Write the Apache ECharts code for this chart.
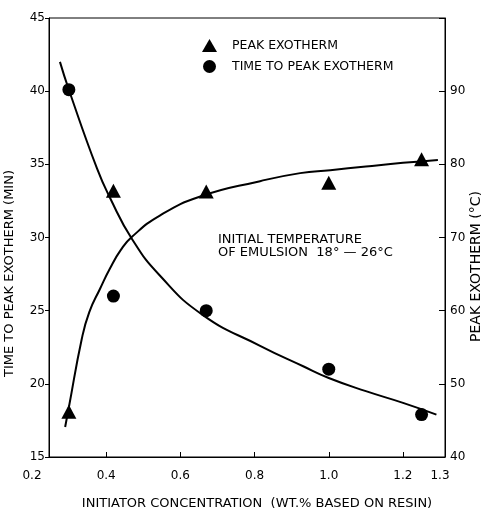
<!DOCTYPE html>
<html><head><meta charset="utf-8">
<script src="https://cdn.jsdelivr.net/npm/echarts@6/dist/echarts.min.js"></script>
<style>html,body{margin:0;padding:0;background:#fff}#c{width:481px;height:509px}</style>
</head><body><div id="c"></div>
<script>
const concentration = [0.30, 0.42, 0.67, 1.00, 1.25];
const timeToPeak = [40.1, 26.0, 25.0, 21.0, 17.9];
const peakExotherm = [46.2, 76.4, 76.3, 77.5, 80.7];
const timeCurveX = [0.276, 0.30, 0.376, 0.411, 0.47, 0.545, 0.661, 0.815, 0.931, 1.0, 1.1, 1.2, 1.29];
const timeCurveY = [42.0, 40.1, 34.7, 32.7, 29.9, 27.4, 24.7, 22.6, 21.2, 20.4, 19.5, 18.7, 17.9];
const exoCurveX = [0.29, 0.30, 0.335, 0.355, 0.384, 0.411, 0.44, 0.47, 0.545, 0.654, 0.815, 0.923, 1.004, 1.1, 1.2, 1.294];
const exoCurveY = [44.1, 46.8, 56.2, 59.8, 63.0, 65.8, 68.3, 70.1, 73.0, 75.6, 77.7, 78.8, 79.2, 79.7, 80.2, 80.6];
const xTickLabels = [0.2, 0.4, 0.6, 0.8, 1.0, 1.2, 1.3];
const xTickMarks = [0.4, 0.6, 0.8, 1.0, 1.2];
const rightHiddenLabel = 100;
const seriesNames = ['PEAK EXOTHERM', 'TIME TO PEAK EXOTHERM'];
const xTitle = 'INITIATOR CONCENTRATION  (WT.% BASED ON RESIN)';
const leftTitle = 'TIME TO PEAK EXOTHERM (MIN)';
const rightTitle = 'PEAK EXOTHERM (°C)';
const annotationLines = ['INITIAL TEMPERATURE', 'OF EMULSION  18° — 26°C'];

const FONT = 'DejaVu Sans';
const chart = echarts.init(document.getElementById('c'), null, {renderer: 'canvas'});
const pair = (xs, ys) => xs.map((x, i) => [x, ys[i]]);
const black = '#000';
chart.setOption({
  animation: false,
  backgroundColor: '#fff',
  grid: [
    {left: 49, right: 36, top: 18, bottom: 52, outerBoundsMode: 'none', containLabel: false,
     show: true, borderColor: black, borderWidth: 1, backgroundColor: 'transparent'},
    {left: 32, right: 41, top: 18, bottom: 52, outerBoundsMode: 'none', containLabel: false}
  ],
  legend: {
    orient: 'vertical', left: 197, top: 34, itemWidth: 15, itemHeight: 13, itemGap: 8,
    data: [{name: seriesNames[0], icon: 'triangle'}, {name: seriesNames[1], icon: 'circle'}],
    itemStyle: {color: black, opacity: 1},
    textStyle: {fontFamily: FONT, fontSize: 12.5, color: black, padding: [0, 0, 0, 10]}
  },
  xAxis: [
    {gridIndex: 0, type: 'value', min: 0.2465, max: 1.3131,
     axisLine: {show: true, lineStyle: {color: black, width: 1}},
     axisTick: {inside: true, length: 5, customValues: xTickMarks, lineStyle: {color: black}},
     axisLabel: {show: false}, splitLine: {show: false},
     name: xTitle, nameLocation: 'middle', nameGap: 40, nameMoveOverlap: false,
     nameTextStyle: {fontFamily: FONT, fontSize: 13, color: black, padding: [0, 0, 0, 20]}},
    {gridIndex: 1, type: 'value', min: 0.2, max: 1.3,
     axisLine: {show: false}, axisTick: {show: false}, splitLine: {show: false},
     axisLabel: {customValues: xTickLabels, formatter: v => v.toFixed(1), margin: 13,
       fontFamily: FONT, fontSize: 12, color: black}}
  ],
  yAxis: [
    {gridIndex: 0, type: 'value', position: 'left', min: 15, max: 45, interval: 5,
     axisLine: {show: true, lineStyle: {color: black}},
     axisTick: {show: true, inside: false, length: 4, lineStyle: {color: black}},
     axisLabel: {margin: 4, fontFamily: FONT, fontSize: 12, color: black},
     splitLine: {show: false},
     name: leftTitle, nameLocation: 'middle', nameRotate: 90, nameGap: 33, nameMoveOverlap: false,
     nameTextStyle: {fontFamily: FONT, fontSize: 13, color: black, padding: [0, 72, 0, 0]}},
    {gridIndex: 0, type: 'value', position: 'right', min: 40, max: 100, interval: 10,
     axisLine: {show: true, lineStyle: {color: black}},
     axisTick: {show: true, inside: true, length: 6, lineStyle: {color: black}},
     axisLabel: {margin: 5, fontFamily: FONT, fontSize: 12, color: black,
       formatter: v => (v === rightHiddenLabel ? '' : String(v))},
     splitLine: {show: false},
     name: rightTitle, nameLocation: 'middle', nameRotate: 90, nameGap: 24, nameMoveOverlap: false,
     nameTextStyle: {fontFamily: FONT, fontSize: 14, color: black, padding: [0, 58, 0, 0]}},
    {gridIndex: 1, type: 'value', show: false, min: 0, max: 1}
  ],
  graphic: [{
    type: 'text', left: 218, top: 233,
    style: {text: annotationLines.join('\n'), fontFamily: FONT, fontSize: 13, lineHeight: 13, fill: black}
  }],
  series: [
    {type: 'line', xAxisIndex: 0, yAxisIndex: 0, data: pair(timeCurveX, timeCurveY),
     smooth: 0.5, showSymbol: false, clip: false,
     lineStyle: {color: black, width: 2}, silent: true},
    {type: 'line', xAxisIndex: 0, yAxisIndex: 1, data: pair(exoCurveX, exoCurveY),
     smooth: 0.5, showSymbol: false, clip: false,
     lineStyle: {color: black, width: 2}, silent: true},
    {name: seriesNames[0], type: 'scatter', xAxisIndex: 0, yAxisIndex: 1,
     data: pair(concentration, peakExotherm), symbol: 'triangle', symbolSize: [15, 14],
     itemStyle: {color: black, opacity: 1}},
    {name: seriesNames[1], type: 'scatter', xAxisIndex: 0, yAxisIndex: 0,
     data: pair(concentration, timeToPeak), symbol: 'circle', symbolSize: 13,
     itemStyle: {color: black, opacity: 1}}
  ]
});
</script>
</body></html>
